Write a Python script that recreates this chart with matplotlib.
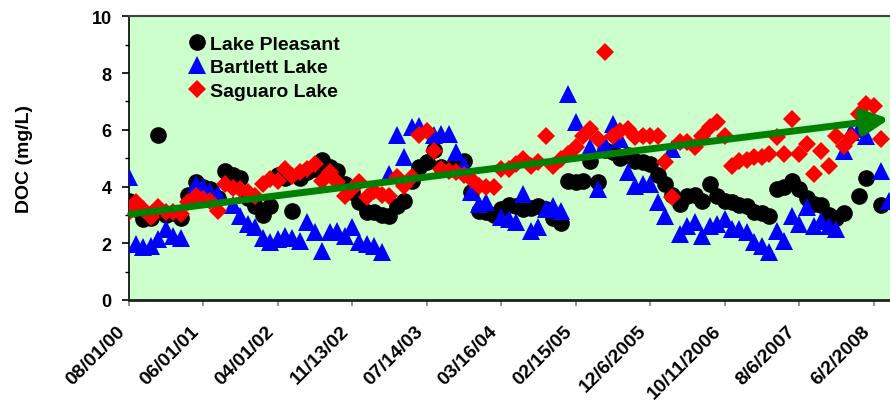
import numpy as np
import matplotlib
matplotlib.use('Agg')
import matplotlib.pyplot as plt

plt.rcParams['font.family'] = ['Liberation Sans', 'DejaVu Sans']
plt.rcParams['font.weight'] = 'bold'

# ----- sample dates shown on the axis (every 10th sample) -----
date_labels = ['08/01/00', '06/01/01', '04/01/02', '11/13/02', '07/14/03',
               '03/16/04', '02/15/05', '12/6/2005', '10/11/2006', '8/6/2007',
               '6/2/2008']
label_every = 10

# ----- DOC (mg/L), one value per monthly sample -----
pleasant = [3.5, 3.2, 2.85, 2.9, 5.8, 3.0, 3.05, 2.9, 3.7, 4.15,
            4.0, 3.9, 3.6, 4.55, 4.4, 4.3, 3.6, 3.3, 3.0, 3.3,
            4.4, 4.3, 3.15, 4.3, 4.5, 4.6, 4.95, 4.7, 4.55, 4.1,
            3.8, 3.45, 3.1, 3.1, 3.0, 2.95, 3.3, 3.5, 4.2, 4.7,
            4.85, 5.3, 4.7, 4.6, 4.8, 4.9, 3.8, 3.15, 3.1, 3.0,
            3.2, 3.35, 3.3, 3.2, 3.25, 3.3, 3.2, 2.9, 2.7, 4.2,
            4.15, 4.2, 4.9, 4.15, 5.3, 5.2, 5.0, 5.1, 4.9, 4.85,
            4.8, 4.4, 4.1, 3.7, 3.4, 3.65, 3.7, 3.5, 4.1, 3.65,
            3.5, 3.45, 3.35, 3.3, 3.1, 3.05, 2.95, 3.9, 4.0, 4.2,
            3.9, 3.6, 3.4, 3.35, 3.0, 2.9, 3.05, None, 3.65, 4.3,
            None, 3.35, None]

bartlett = [4.35, 1.97, 1.87, 1.9, 2.15, 2.5, 2.27, 2.2, None, 4.1,
            4.0, 3.85, 3.73, None, 3.35, 2.97, 2.68, 2.57, 2.2, 2.03,
            2.15, 2.27, 2.2, 2.09, 2.74, 2.38, 1.73, 2.38, 2.44, 2.27,
            2.57, 2.03, 1.97, 1.9, 1.7, 4.45, 5.8, 5.05, 6.1, 6.15,
            None, 5.8, 5.85, 5.85, 5.2, 4.75, 3.8, 3.4, 3.45, None,
            2.92, 2.85, 2.74, 3.73, 2.44, 2.57, 3.2, 3.33, 3.15, 7.26,
            6.27, None, 5.4, 3.9, 5.5, 6.2, 5.68, 4.5, 4.03, 4.09,
            4.09, 3.44, 2.97, 5.32, 2.33, 2.62, 2.74, 2.27, 2.62, 2.68,
            2.85, 2.5, 2.5, 2.39, 2.03, 1.91, 1.68, 2.44, 2.09, 2.97,
            2.68, 3.27, 2.62, 2.8, 2.62, 2.5, 5.26, 5.91, 6.03, 5.79,
            None, 4.56, 3.5]

saguaro = [3.09, 3.44, 3.2, 2.92, 3.27, 3.1, 3.09, 3.03, 3.44, 3.68,
           3.56, 3.5, 3.15, 4.09, 3.95, 3.91, 3.8, 3.68, 4.09, 4.27,
           4.2, 4.62, 4.38, 4.5, 4.6, 4.79, 4.2, 4.5, 4.15, 3.68,
           3.9, 4.15, 3.62, 3.85, 3.7, 3.68, 4.32, 4.03, 4.32, 5.8,
           5.97, 5.26, 4.62, 4.55, 4.5, 4.4, 4.27, 4.03, 4.0, 3.97,
           4.62, 4.62, 4.8, 4.97, 4.73, 4.85, 5.79, 4.73, 4.97, 5.15,
           5.38, 5.79, 6.03, 5.68, 8.73, 5.79, 5.97, 6.03, 5.74, 5.79,
           5.79, 5.79, 4.85, 3.62, 5.56, 5.56, 5.38, 5.79, 6.1, 6.26,
           5.79, 4.73, 4.91, 4.95, 5.03, 5.03, 5.15, 5.74, 5.15, 6.38,
           5.15, 5.5, 4.44, 5.26, 4.73, 5.79, 5.44, 5.74, 6.56, 6.91,
           6.85, 5.68, None]

# trend arrow: (sample index, DOC) at start and end
trend_start = (0.3, 3.03)
trend_end = (102.1, 6.38)

pleasant = np.array(pleasant, dtype=float)
bartlett = np.array(bartlett, dtype=float)
saguaro = np.array(saguaro, dtype=float)
x = np.arange(len(pleasant))

fig = plt.figure(figsize=(8.9, 4.02), dpi=100)
ax = fig.add_axes([128.5 / 890, 101 / 402, (890 - 128.5) / 890, 283.7 / 402])
ax.set_facecolor('#CCFFCC')

ax.plot(x, pleasant, 'o', color='black', ms=12, mew=0, label='Lake Pleasant', zorder=3)
ax.plot(x, bartlett, '^', color='#0000FF', ms=12.5, mew=0, label='Bartlett Lake', zorder=4)
ax.plot(x, saguaro, 'D', color='#FF0000', ms=9.5, mew=0, label='Saguaro Lake', zorder=5)

ax.annotate('', xy=trend_end, xytext=trend_start,
            arrowprops=dict(arrowstyle='-|>,head_length=0.75,head_width=0.38',
                            color='#008000', lw=5, mutation_scale=20,
                            shrinkA=0, shrinkB=0),
            zorder=6, annotation_clip=False)

ax.set_xlim(0, 102.2)
ax.set_ylim(0, 10)
ax.set_yticks(np.arange(0, 11, 2))
ax.set_yticks(np.arange(1, 10, 2), minor=True)
ax.set_xticks(np.arange(0, len(date_labels) * label_every, label_every))
ax.set_xticklabels(date_labels, rotation=45, ha='right', fontsize=14,
                   fontweight='bold')
ax.tick_params(axis='y', which='major', direction='out', length=5, width=1.2,
               labelsize=13, pad=7)
ax.tick_params(axis='y', which='minor', direction='out', length=3, width=1.0)
ax.tick_params(axis='x', direction='out', length=4, width=1.2, color='#808080',
               pad=12)
for lab in ax.get_yticklabels():
    lab.set_fontweight('bold')

ax.spines['right'].set_visible(False)
ax.spines['top'].set_color('#404040')
ax.spines['top'].set_linewidth(1.5)
ax.spines['left'].set_linewidth(1.2)
ax.spines['bottom'].set_color('#202020')
ax.spines['bottom'].set_linewidth(2)

ax.set_ylabel('DOC (mg/L)', fontsize=14, fontweight='bold', labelpad=42)

ax.legend(loc='upper left', bbox_to_anchor=(0.062, 0.985), frameon=False,
          fontsize=14, handlelength=0.7, handletextpad=0.3, labelspacing=0.3,
          borderaxespad=0.35)

fig.savefig('out.png', dpi=100)
